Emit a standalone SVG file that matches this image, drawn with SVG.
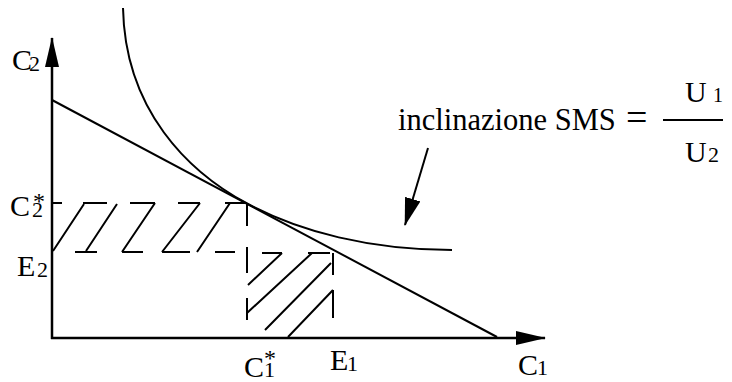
<svg xmlns="http://www.w3.org/2000/svg" width="732" height="382" viewBox="0 0 732 382">
<style>
.ln{stroke:#000;stroke-width:2;fill:none;stroke-linecap:butt}
.ax{stroke:#000;stroke-width:2.5;fill:none}
text{font-family:'Liberation Serif','Times New Roman',serif;fill:#000}
.big{font-size:30px}
.sub{font-size:22px}
.ast{font-size:24px}
</style>
<defs>
<marker id="axh" viewBox="0 0 30 14" markerWidth="30" markerHeight="14" refX="29" refY="7" orient="auto" markerUnits="userSpaceOnUse">
<path d="M0,0 L30,7 L0,14 z" fill="#000"/>
</marker>
<marker id="ptr" viewBox="0 0 28 16" markerWidth="28" markerHeight="16" refX="27" refY="8" orient="auto" markerUnits="userSpaceOnUse">
<path d="M0,0 L28,8 L0,16 z" fill="#000"/>
</marker>
</defs>
<rect width="732" height="382" fill="#fff"/>
<g id="axes">
<line class="ax" x1="52" y1="339" x2="52" y2="38" marker-end="url(#axh)"/>
<line class="ax" x1="51" y1="338" x2="545" y2="338" marker-end="url(#axh)"/>
</g>
<g id="budget-line">
<line class="ln" x1="52" y1="100" x2="497" y2="337"/>
</g>
<g id="indifference-curve">
<path class="ln" d="M123,8 C125,110 188,172 248,204 C300,231.7 370,250 452,250"/>
</g>
<g id="hatch-1">
<path class="ln" d="M53,203 H62 M83,203 H107 M130,203 H155 M178,203 H200 M225,203 H247
M75,252 H97 M122,252 H143 M162,252 H190 M215,252 H235
M53,251 L84,204 M86,251 L117,204 M122,252 L155,203 M162,252 L200,203 M197,252 L230,203"/>
</g>
<g id="hatch-2">
<path class="ln" d="M247,203 V226 M247,247 V273 M247,298 V320
M262,253 H282 M308,253 H330
M333,253 V275 M333,290 V318
M248,285 L282,253 M247,313 L312,253 M265,330 L331,263 M288,337 L333,290"/>
</g>
<g id="connectors">
<line class="ln" x1="428" y1="148" x2="405" y2="225" marker-end="url(#ptr)"/>
</g>
<g id="labels">
<text class="big" x="12" y="70">C</text><text class="sub" x="29" y="71">2</text>
<text class="big" x="10" y="216">C</text><text class="sub" x="32" y="217">2</text><text class="ast" x="33" y="209">*</text>
<text class="big" x="17" y="276">E</text><text class="sub" x="37" y="277">2</text>
<text class="big" x="244" y="377">C</text><text class="sub" x="264" y="377">1</text><text class="ast" x="264" y="366">*</text>
<text class="big" x="330" y="370">E</text><text class="sub" x="347" y="371">1</text>
<text class="big" x="518" y="375">C</text><text class="sub" x="537" y="375">1</text>
</g>
<g id="formula">
<text x="398" y="130" font-size="30.5">inclinazione SMS</text>
<text x="626" y="130" font-size="38">=</text>
<line x1="663" y1="120" x2="723" y2="120" stroke="#000" stroke-width="2"/>
<text class="big" x="685" y="102">U</text><text x="713" y="102" font-size="20">1</text>
<text class="big" x="685" y="162">U</text><text class="sub" x="708" y="162">2</text>
</g>
</svg>
